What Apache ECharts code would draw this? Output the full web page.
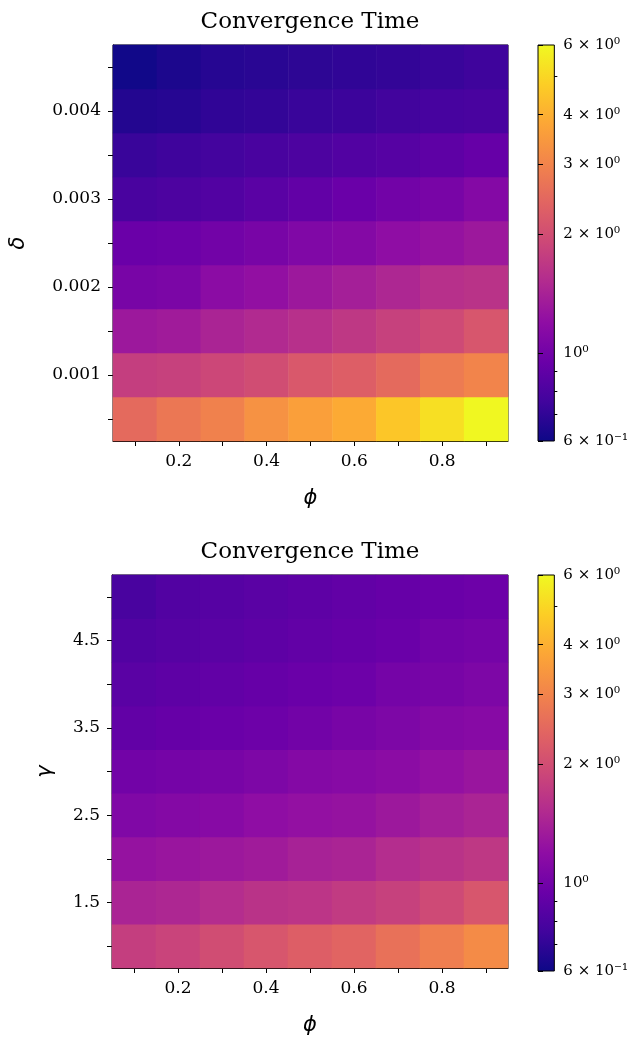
<!DOCTYPE html>
<html>
<head>
<meta charset="utf-8">
<script src="https://cdn.jsdelivr.net/npm/echarts@6/dist/echarts.min.js"></script>
<style>
html,body{margin:0;padding:0;background:#fff;}
#chart{width:631px;height:1037px;}
</style>
</head>
<body>
<div id="chart"></div>
<script>
// ---- data ----
const phi = [0.1, 0.2, 0.3, 0.4, 0.5, 0.6, 0.7, 0.8, 0.9];
const delta = [0.0005, 0.001, 0.0015, 0.002, 0.0025, 0.003, 0.0035, 0.004, 0.0045];
const gamma = [1.0, 1.5, 2.0, 2.5, 3.0, 3.5, 4.0, 4.5, 5.0];

const phiTickLabels = ['0.2', '0.4', '0.6', '0.8'];
const deltaTickLabels = ['0.001', '0.002', '0.003', '0.004'];
const gammaTickLabels = ['1.5', '2.5', '3.5', '4.5'];

// rows: index 0 = lowest delta; columns follow phi
const timeDelta = [
  [2.50, 2.74, 2.94, 3.30, 3.62, 3.87, 4.55, 5.23, 5.95],
  [1.77, 1.81, 1.90, 1.99, 2.18, 2.28, 2.50, 2.81, 3.01],
  [1.31, 1.34, 1.44, 1.51, 1.58, 1.69, 1.81, 1.94, 2.13],
  [1.04, 1.06, 1.17, 1.22, 1.31, 1.38, 1.47, 1.58, 1.62],
  [0.95, 0.96, 1.00, 1.04, 1.09, 1.12, 1.20, 1.25, 1.31],
  [0.79, 0.81, 0.83, 0.87, 0.91, 0.95, 1.00, 1.04, 1.12],
  [0.73, 0.75, 0.77, 0.79, 0.81, 0.83, 0.85, 0.89, 0.93],
  [0.66, 0.67, 0.70, 0.71, 0.73, 0.74, 0.76, 0.78, 0.79],
  [0.61, 0.64, 0.67, 0.68, 0.69, 0.70, 0.71, 0.73, 0.75]
];

// rows: index 0 = lowest gamma
const timeGamma = [
  [1.77, 1.85, 1.99, 2.13, 2.28, 2.39, 2.62, 2.87, 3.15],
  [1.44, 1.47, 1.54, 1.62, 1.65, 1.73, 1.81, 1.94, 2.13],
  [1.25, 1.28, 1.31, 1.34, 1.41, 1.44, 1.54, 1.62, 1.69],
  [1.09, 1.12, 1.14, 1.20, 1.23, 1.25, 1.31, 1.38, 1.44],
  [1.00, 1.02, 1.04, 1.07, 1.12, 1.14, 1.17, 1.23, 1.28],
  [0.91, 0.93, 0.95, 0.97, 1.00, 1.04, 1.07, 1.12, 1.14],
  [0.87, 0.89, 0.91, 0.93, 0.95, 0.97, 1.02, 1.04, 1.07],
  [0.83, 0.85, 0.87, 0.89, 0.91, 0.93, 0.95, 1.00, 1.02],
  [0.79, 0.83, 0.85, 0.87, 0.89, 0.91, 0.93, 0.95, 0.97]
];

const colorMin = 0.6, colorMax = 6;
const cbMajorTicks = [0.6, 1, 2, 3, 4, 6];
const cbMajorLabels = ['6 \u00d7 10\u207b\u00b9', '10\u2070', '2 \u00d7 10\u2070', '3 \u00d7 10\u2070', '4 \u00d7 10\u2070', '6 \u00d7 10\u2070'];
const cbMinorTicks = [0.7, 0.8, 0.9, 5];

const plasma = ['#0d0887', '#41049d', '#6a00a8', '#8f0da4', '#b12a90', '#cc4778',
                '#e16462', '#f2844b', '#fca636', '#fcce25', '#f0f921'];

// ---- build ----
const SERIF = 'DejaVu Serif';
function toCells(mat) {
  const out = [];
  mat.forEach((row, yi) => row.forEach((v, xi) => out.push([xi, yi, Math.log10(v), v])));
  return out;
}
const lmin = Math.log10(colorMin), lmax = Math.log10(colorMax);
const gradient = {
  type: 'linear', x: 0, y: 1, x2: 0, y2: 0,
  colorStops: plasma.map((c, i) => ({ offset: i / (plasma.length - 1), color: c }))
};

const grids = [
  { left: 112, top: 45, width: 396, height: 396 },
  { left: 112, top: 575, width: 396, height: 396 },
  { left: 538, top: 45, width: 19, height: 396 },
  { left: 538, top: 575, width: 19, height: 396 }
];
grids.forEach(g => { g.show = true; g.borderColor = '#000'; g.borderWidth = 1; g.containLabel = false; });
grids[2].backgroundColor = gradient;
grids[3].backgroundColor = gradient;

function catX(gi) {
  return {
    type: 'category', gridIndex: gi, data: phi.map(String),
    axisLine: { show: true, lineStyle: { color: '#000', width: 1 } },
    axisTick: { show: true, interval: 0, alignWithLabel: true, length: 5, lineStyle: { color: '#000' } },
    axisLabel: {
      interval: 0, margin: 12, color: '#000', fontFamily: SERIF, fontSize: 17,
      formatter: v => phiTickLabels.indexOf(v) >= 0 ? v : ''
    },
    splitLine: { show: false },
    name: '\u03d5', nameLocation: 'middle', nameGap: 47,
    nameTextStyle: { fontFamily: 'DejaVu Sans', fontStyle: 'italic', fontSize: 21, color: '#000' }
  };
}
function catY(gi, cats, labels, name, gap) {
  return {
    type: 'category', gridIndex: gi, data: cats.map(String),
    axisLine: { show: true, lineStyle: { color: '#000', width: 1 } },
    axisTick: { show: true, interval: 0, alignWithLabel: true, length: 5, lineStyle: { color: '#000' } },
    axisLabel: {
      interval: 0, margin: 12, color: '#000', fontFamily: SERIF, fontSize: 17,
      formatter: v => labels.indexOf(v) >= 0 ? v : ''
    },
    splitLine: { show: false },
    name: name, nameLocation: 'middle', nameGap: gap, nameRotate: 90,
    nameTextStyle: { fontFamily: 'DejaVu Sans', fontStyle: 'italic', fontSize: 21, color: '#000' }
  };
}
function cbY(gi, major) {
  const vals = (major ? cbMajorTicks : cbMinorTicks).map(Math.log10);
  return {
    type: 'value', gridIndex: gi, min: lmin, max: lmax, position: 'right',
    axisLine: { show: false },
    splitLine: { show: false },
    axisTick: { show: true, length: major ? 5 : 3, customValues: vals, lineStyle: { color: '#000' } },
    axisLabel: major ? {
      show: true, customValues: vals, margin: 9, color: '#000', fontFamily: SERIF, fontSize: 15,
      formatter: v => {
        let best = 0, bd = 1e9;
        cbMajorTicks.forEach((t, i) => { const d = Math.abs(Math.log10(t) - v); if (d < bd) { bd = d; best = i; } });
        return cbMajorLabels[best];
      }
    } : { show: false }
  };
}
function cbX(gi) {
  return { type: 'value', gridIndex: gi, min: 0, max: 1, show: false };
}

const titleStyle = { fontFamily: SERIF, fontSize: 23, fontWeight: 'normal', color: '#000' };

const option = {
  backgroundColor: '#fff',
  animation: false,
  title: [
    { text: 'Convergence Time', left: 310, top: 11, textAlign: 'center', padding: 0, textStyle: titleStyle },
    { text: 'Convergence Time', left: 310, top: 541, textAlign: 'center', padding: 0, textStyle: titleStyle }
  ],
  grid: grids,
  xAxis: [catX(0), catX(1), cbX(2), cbX(3)],
  yAxis: [
    catY(0, delta, deltaTickLabels, '\u03b4', 84),
    catY(1, gamma, gammaTickLabels, '\u03b3', 56),
    cbY(2, true), cbY(3, true), cbY(2, false), cbY(3, false)
  ],
  visualMap: {
    type: 'continuous', show: false, dimension: 2, min: lmin, max: lmax,
    seriesIndex: [0, 1], inRange: { color: plasma }
  },
  series: [
    { type: 'heatmap', xAxisIndex: 0, yAxisIndex: 0, data: toCells(timeDelta), itemStyle: { borderWidth: 0 } },
    { type: 'heatmap', xAxisIndex: 1, yAxisIndex: 1, data: toCells(timeGamma), itemStyle: { borderWidth: 0 } }
  ]
};

const chart = echarts.init(document.getElementById('chart'), null, { renderer: 'canvas' });
chart.setOption(option);
</script>
</body>
</html>
